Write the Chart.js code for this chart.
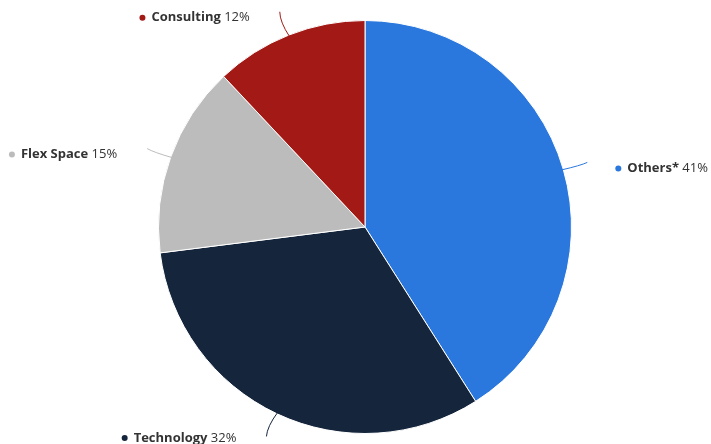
<!DOCTYPE html>
<html>
<head>
<meta charset="utf-8">
<script src="https://cdn.jsdelivr.net/npm/chart.js@4"></script>
<style>
  html, body { margin: 0; padding: 0; background: #fff; }
  #wrap { width: 711px; height: 444px; }
</style>
</head>
<body>
<div id="wrap"><canvas id="pie"></canvas></div>
<script>
var categories = ['Others*', 'Technology', 'Flex Space', 'Consulting'];
var shares = [41, 32, 15, 12];
var colors = ['#2a78de', '#15253c', '#bcbcbc', '#a31915'];

// draws the outside labels with little curved connectors
var outsideLabels = {
    id: 'outsideLabels',
    afterDraw: function(chart) {
        var ctx = chart.ctx;
        var meta = chart.getDatasetMeta(0);
        meta.data.forEach(function(arc, i) {
            var mid = (arc.startAngle + arc.endAngle) / 2;
            var cx = arc.x, cy = arc.y, r = arc.outerRadius;
            var dx = Math.cos(mid), dy = Math.sin(mid);
            var sx = cx + dx * (r - 2), sy = cy + dy * (r - 2);
            var ex = cx + dx * (r + 25), ey = cy + dy * (r + 25);
            var qx = cx + dx * (r + 14) + (dx < 0 ? -4 : 4), qy = cy + dy * (r + 14);

            ctx.save();
            ctx.strokeStyle = colors[i];
            ctx.lineWidth = 1;
            ctx.beginPath();
            ctx.moveTo(sx, sy);
            ctx.quadraticCurveTo(qx, qy, ex, ey);
            ctx.stroke();

            var name = categories[i];
            var pct = ' ' + shares[i] + '%';
            ctx.font = 'bold 13px "Open Sans"';
            var wName = ctx.measureText(name).width;
            ctx.font = '13px "Open Sans"';
            var wPct = ctx.measureText(pct).width;
            var ty = Math.min(ey + 6, chart.height - 6);
            var tx;
            if (dx < 0) {
                tx = ex - 30 - wName - wPct;
            } else {
                tx = ex + 40;
            }
            ctx.fillStyle = colors[i];
            ctx.beginPath();
            ctx.arc(tx - 9, ty, 3, 0, Math.PI * 2);
            ctx.fill();
            ctx.textBaseline = 'middle';
            ctx.fillStyle = '#333333';
            ctx.font = 'bold 13px "Open Sans"';
            ctx.fillText(name, tx, ty);
            ctx.font = '13px "Open Sans"';
            ctx.fillText(pct, tx + wName, ty);
            ctx.restore();
        });
    }
};

new Chart(document.getElementById('pie'), {
    type: 'pie',
    data: {
        labels: categories,
        datasets: [{
            data: shares,
            backgroundColor: colors,
            borderColor: '#ffffff',
            borderWidth: 1
        }]
    },
    options: {
        responsive: true,
        maintainAspectRatio: false,
        animation: false,
        layout: { padding: { left: 158, right: 139, top: 20, bottom: 10 } },
        plugins: {
            legend: { display: false },
            tooltip: { enabled: false }
        }
    },
    plugins: [outsideLabels]
});
</script>
</body>
</html>
